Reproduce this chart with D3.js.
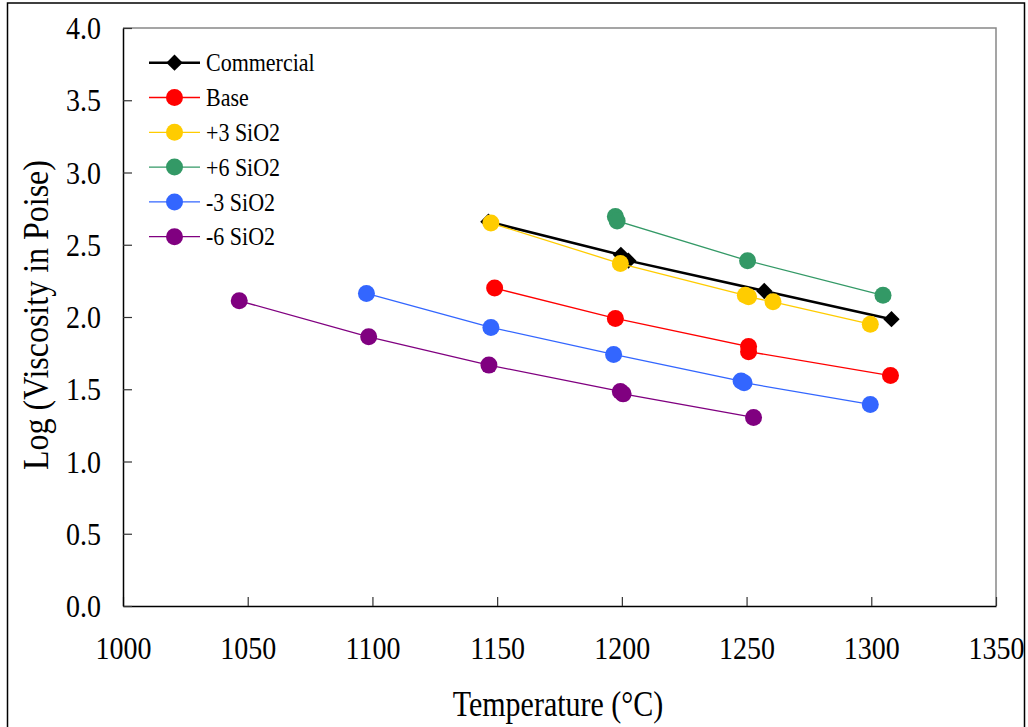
<!DOCTYPE html>
<html>
<head>
<meta charset="utf-8">
<script src="https://cdn.jsdelivr.net/npm/d3@7"></script>
<style>
  body { margin: 0; background: #fff; }
  text { font-family: "Liberation Serif", "Times New Roman", serif; fill: #000; }
</style>
</head>
<body>
<div id="chart"></div>
<script>
var width = 1028,
	height = 727;

// data
var seriesNames = ['Commercial', 'Base', '+3 SiO2', '+6 SiO2', '-3 SiO2', '-6 SiO2'];
var seriesColors = ['#000000', '#ff0000', '#ffcc00', '#339966', '#3366ff', '#800080'];

var commercialT = [1146.5, 1199.6, 1202.6, 1257.1, 1308.1],
	commercialV = [2.66, 2.43, 2.39, 2.18, 1.985];
var baseT = [1149, 1197.4, 1250.8, 1250.8, 1307.7],
	baseV = [2.20, 1.99, 1.795, 1.76, 1.595];
var plus3T = [1147.5, 1199.4, 1249.5, 1250.8, 1260.6, 1299.6],
	plus3V = [2.65, 2.37, 2.15, 2.14, 2.105, 1.95];
var plus6T = [1197.4, 1198.1, 1250.4, 1304.7],
	plus6V = [2.695, 2.665, 2.39, 2.15];
var minus3T = [1097.6, 1147.5, 1196.7, 1247.8, 1249.0, 1299.6],
	minus3V = [2.163, 1.928, 1.741, 1.557, 1.545, 1.395];
var minus6T = [1046.6, 1098.5, 1146.7, 1199.4, 1200.5, 1252.8],
	minus6V = [2.112, 1.863, 1.667, 1.485, 1.468, 1.305];

var xTicks = [1000, 1050, 1100, 1150, 1200, 1250, 1300, 1350],
	yTicks = [0, 0.5, 1, 1.5, 2, 2.5, 3, 3.5, 4];

var allT = [commercialT, baseT, plus3T, plus6T, minus3T, minus6T],
	allV = [commercialV, baseV, plus3V, plus6V, minus3V, minus6V];

var series = seriesNames.map(function(name, i) {
	return {
		name: name,
		color: seriesColors[i],
		points: allT[i].map(function(t, j) { return [t, allV[i][j]]; })
	};
});

var plot = {left: 123, right: 996, top: 28, bottom: 606};

// the reference type is a little taller than Times at the same width
var STRETCH = 1.15;

var svg = d3.select('#chart').append('svg')
	.attr('width', width)
	.attr('height', height);

// outer frame
svg.append('rect')
	.attr('x', 7.5).attr('y', 3)
	.attr('width', 1017).attr('height', 740)
	.attr('fill', 'none')
	.attr('stroke', '#000')
	.attr('stroke-width', 1.5);

var x = d3.scaleLinear().domain([1000, 1350]).range([plot.left, plot.right]);
var y = d3.scaleLinear().domain([0, 4]).range([plot.bottom, plot.top]);

// plot frame top/right
svg.append('path')
	.attr('d', 'M' + plot.left + ',' + plot.top + 'H' + plot.right + 'V' + plot.bottom)
	.attr('fill', 'none')
	.attr('stroke', '#888')
	.attr('stroke-width', 1.5);

var xAxis = svg.append('g')
	.attr('transform', 'translate(0,' + plot.bottom + ')')
	.call(d3.axisBottom(x).tickValues(xTicks).tickSizeInner(-9).tickSizeOuter(0).tickFormat(d3.format('d')));
xAxis.selectAll('text')
	.attr('y', 0).attr('dy', 0)
	.attr('transform', 'translate(0,53) scale(1,' + STRETCH + ')')
	.style('font-size', '28px');

var yAxis = svg.append('g')
	.attr('transform', 'translate(' + plot.left + ',0)')
	.call(d3.axisLeft(y).tickValues(yTicks).tickSizeInner(-9).tickSizeOuter(0).tickFormat(d3.format('.1f')));
yAxis.selectAll('text')
	.attr('x', 0).attr('dy', '0.33em')
	.attr('transform', 'translate(-22,0) scale(1,' + STRETCH + ')')
	.style('font-size', '28px');

[xAxis, yAxis].forEach(function(a) {
	a.select('.domain').attr('stroke', '#000').attr('stroke-width', 1.5);
	a.selectAll('.tick line').attr('stroke', '#333').attr('stroke-width', 1.2);
	a.selectAll('text').attr('fill', '#000').style('font-family', '"Liberation Serif", serif');
});

// axis titles
svg.append('text')
	.attr('transform', 'translate(558,716) scale(1,1.2)')
	.attr('text-anchor', 'middle')
	.style('font-size', '30px')
	.text('Temperature (\u00b0C)');

svg.append('text')
	.attr('transform', 'translate(48,315) rotate(-90) scale(1,1.15)')
	.attr('text-anchor', 'middle')
	.style('font-size', '32px')
	.text('Log (Viscosity in Poise)');

var line = d3.line()
	.x(function(d) { return x(d[0]); })
	.y(function(d) { return y(d[1]); });

var diamond = d3.symbol().type(d3.symbolDiamond2).size(170);

function drawMarker(g, s, px, py) {
	if (s.name === 'Commercial') {
		g.append('path')
			.attr('d', diamond)
			.attr('transform', 'translate(' + px + ',' + py + ')')
			.attr('fill', s.color);
	} else {
		g.append('circle')
			.attr('cx', px).attr('cy', py)
			.attr('r', 8.5)
			.attr('fill', s.color);
	}
}

var gSeries = svg.append('g').classed('series', true);

series.forEach(function(s) {
	var g = gSeries.append('g');
	g.append('path')
		.datum(s.points)
		.attr('d', line)
		.attr('fill', 'none')
		.attr('stroke', s.color)
		.attr('stroke-width', s.name === 'Commercial' ? 2.6 : 1.3);
	s.points.forEach(function(p) {
		drawMarker(g, s, x(p[0]), y(p[1]));
	});
});

// legend
var legend = svg.append('g').classed('legend', true);
series.forEach(function(s, i) {
	var ly = 62.7 + i * 34.8;
	var g = legend.append('g');
	g.append('line')
		.attr('x1', 149).attr('x2', 200)
		.attr('y1', ly).attr('y2', ly)
		.attr('stroke', s.color)
		.attr('stroke-width', s.name === 'Commercial' ? 2.6 : 1.3);
	drawMarker(g, s, 174.5, ly);
	g.append('text')
		.attr('transform', 'translate(206,' + ly + ') scale(1,' + STRETCH + ')')
		.attr('dy', '0.34em')
		.style('font-size', '22px')
		.text(s.name);
});
</script>
</body>
</html>
